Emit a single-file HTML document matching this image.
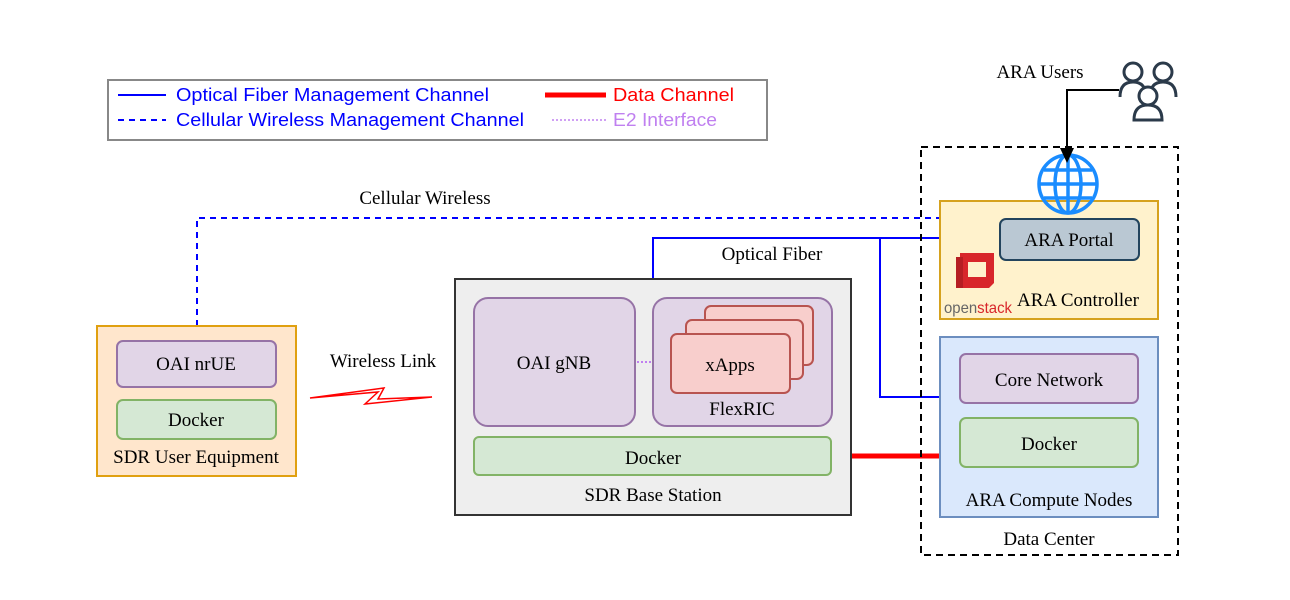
<!DOCTYPE html>
<html><head><meta charset="utf-8"><style>html,body{margin:0;padding:0;background:#fff}svg{display:block}</style></head>
<body>
<svg width="1290" height="600" viewBox="0 0 1290 600" xmlns="http://www.w3.org/2000/svg" font-family="'Liberation Serif', serif" font-size="19">
<!-- Legend -->
<rect x="108" y="80" width="659" height="60" fill="#fff" stroke="#888" stroke-width="2"/>
<line x1="118" y1="95" x2="166" y2="95" stroke="#0000ff" stroke-width="2"/>
<line x1="118" y1="120" x2="166" y2="120" stroke="#0000ff" stroke-width="2" stroke-dasharray="6,5"/>
<g font-family="'Liberation Sans', sans-serif" font-size="18">
<text x="176" y="101" fill="#0000ff" textLength="313" lengthAdjust="spacingAndGlyphs">Optical Fiber Management Channel</text>
<text x="176" y="126" fill="#0000ff" textLength="348" lengthAdjust="spacingAndGlyphs">Cellular Wireless Management Channel</text>
<text x="613" y="101" fill="#ff0000" textLength="121" lengthAdjust="spacingAndGlyphs">Data Channel</text>
<text x="613" y="126" fill="#c080f0" textLength="104" lengthAdjust="spacingAndGlyphs">E2 Interface</text>
</g>
<line x1="545" y1="95" x2="606" y2="95" stroke="#ff0000" stroke-width="5"/>
<line x1="552" y1="120" x2="606" y2="120" stroke="#c080f0" stroke-width="1.5" stroke-dasharray="2,2"/>

<!-- connectors -->
<polyline points="197,326 197,218 940,218" fill="none" stroke="#0000ff" stroke-width="2" stroke-dasharray="6,5"/>
<text x="425" y="204" text-anchor="middle">Cellular Wireless</text>
<polyline points="653,279 653,238 940,238" fill="none" stroke="#0000ff" stroke-width="2"/>
<polyline points="880,238 880,397 940,397" fill="none" stroke="#0000ff" stroke-width="2"/>
<text x="772" y="260" text-anchor="middle">Optical Fiber</text>
<line x1="851" y1="456" x2="940" y2="456" stroke="#ff0000" stroke-width="5"/>

<!-- Data center -->
<rect x="921" y="147" width="257" height="408" fill="none" stroke="#000" stroke-width="2" stroke-dasharray="7,5"/>
<text x="1049" y="545" text-anchor="middle">Data Center</text>
<rect x="940" y="201" width="218" height="118" fill="#fff2cc" stroke="#d6a21e" stroke-width="2"/>
<rect x="1000" y="219" width="139" height="41" rx="6" fill="#bac8d3" stroke="#23445d" stroke-width="2"/>
<text x="1069" y="246" text-anchor="middle">ARA Portal</text>
<text x="1078" y="306" text-anchor="middle">ARA Controller</text>
<!-- openstack logo -->
<g>
<path d="M960,253 h34 v30 l-5,5 h-29 z" fill="#d8262a"/>
<rect x="968" y="262" width="18" height="15" fill="#fff2cc"/>
<rect x="956" y="257" width="7" height="31" fill="#b61e22"/>
</g>
<text x="944" y="313" font-family="'Liberation Sans', sans-serif" font-size="16" fill="#666" textLength="68" lengthAdjust="spacingAndGlyphs">open<tspan fill="#d8262a">stack</tspan></text>
<!-- globe -->
<g fill="none" stroke="#1a8cff" stroke-width="3.5">
<circle cx="1068" cy="184" r="29"/>
<ellipse cx="1068" cy="184" rx="13" ry="29"/>
<line x1="1068" y1="155" x2="1068" y2="213"/>
<line x1="1039" y1="184" x2="1097" y2="184"/>
<line x1="1044" y1="170" x2="1092" y2="170"/>
<line x1="1044" y1="198" x2="1092" y2="198"/>
</g>
<!-- users -->
<text x="1040" y="78" text-anchor="middle">ARA Users</text>
<polyline points="1119,90 1067,90 1067,152" fill="none" stroke="#000" stroke-width="2"/>
<polygon points="1060,148 1074,148 1067,163" fill="#000"/>
<g fill="#fff" stroke="#2b3a4a" stroke-width="3">
<circle cx="1133" cy="72" r="9"/><path d="M1120,97 q0,-15 13,-15 q13,0 13,15"/>
<circle cx="1163" cy="72" r="9"/><path d="M1150,97 q0,-15 13,-15 q13,0 13,15"/>
<circle cx="1148" cy="96" r="9"/><path d="M1134,120 q0,-15 14,-15 q14,0 14,15 z"/>
</g>
<rect x="940" y="337" width="218" height="180" fill="#dae8fc" stroke="#6c8ebf" stroke-width="2"/>
<rect x="960" y="354" width="178" height="49" rx="6" fill="#e1d5e7" stroke="#9673a6" stroke-width="2"/>
<text x="1049" y="386" text-anchor="middle">Core Network</text>
<rect x="960" y="418" width="178" height="49" rx="6" fill="#d5e8d4" stroke="#82b366" stroke-width="2"/>
<text x="1049" y="450" text-anchor="middle">Docker</text>
<text x="1049" y="506" text-anchor="middle">ARA Compute Nodes</text>

<!-- base station -->
<rect x="455" y="279" width="396" height="236" fill="#eeeeee" stroke="#333" stroke-width="2"/>
<rect x="474" y="298" width="161" height="128" rx="14" fill="#e1d5e7" stroke="#9673a6" stroke-width="2"/>
<text x="554" y="369" text-anchor="middle">OAI gNB</text>
<line x1="637" y1="362" x2="652" y2="362" stroke="#c080f0" stroke-width="2" stroke-dasharray="2,2"/>
<rect x="653" y="298" width="179" height="128" rx="14" fill="#e1d5e7" stroke="#9673a6" stroke-width="2"/>
<rect x="705" y="306" width="108" height="59" rx="6" fill="#f8cecc" stroke="#b85450" stroke-width="2"/>
<rect x="686" y="320" width="117" height="59" rx="6" fill="#f8cecc" stroke="#b85450" stroke-width="2"/>
<rect x="671" y="334" width="119" height="59" rx="6" fill="#f8cecc" stroke="#b85450" stroke-width="2"/>
<text x="730" y="371" text-anchor="middle">xApps</text>
<text x="742" y="415" text-anchor="middle">FlexRIC</text>
<rect x="474" y="437" width="357" height="38" rx="5" fill="#d5e8d4" stroke="#82b366" stroke-width="2"/>
<text x="653" y="464" text-anchor="middle">Docker</text>
<text x="653" y="501" text-anchor="middle">SDR Base Station</text>

<!-- wireless -->
<text x="383" y="367" text-anchor="middle">Wireless Link</text>
<path d="M310,398 L378,392 L365,404 L432,397 L378,399 L384,388 Z" fill="none" stroke="#ff0000" stroke-width="1.5"/>

<!-- UE -->
<rect x="97" y="326" width="199" height="150" fill="#ffe6cc" stroke="#e0a010" stroke-width="2"/>
<rect x="117" y="341" width="159" height="46" rx="6" fill="#e1d5e7" stroke="#9673a6" stroke-width="2"/>
<text x="196" y="370" text-anchor="middle">OAI nrUE</text>
<rect x="117" y="400" width="159" height="39" rx="6" fill="#d5e8d4" stroke="#82b366" stroke-width="2"/>
<text x="196" y="426" text-anchor="middle">Docker</text>
<text x="196" y="463" text-anchor="middle">SDR User Equipment</text>
</svg>
</body></html>
